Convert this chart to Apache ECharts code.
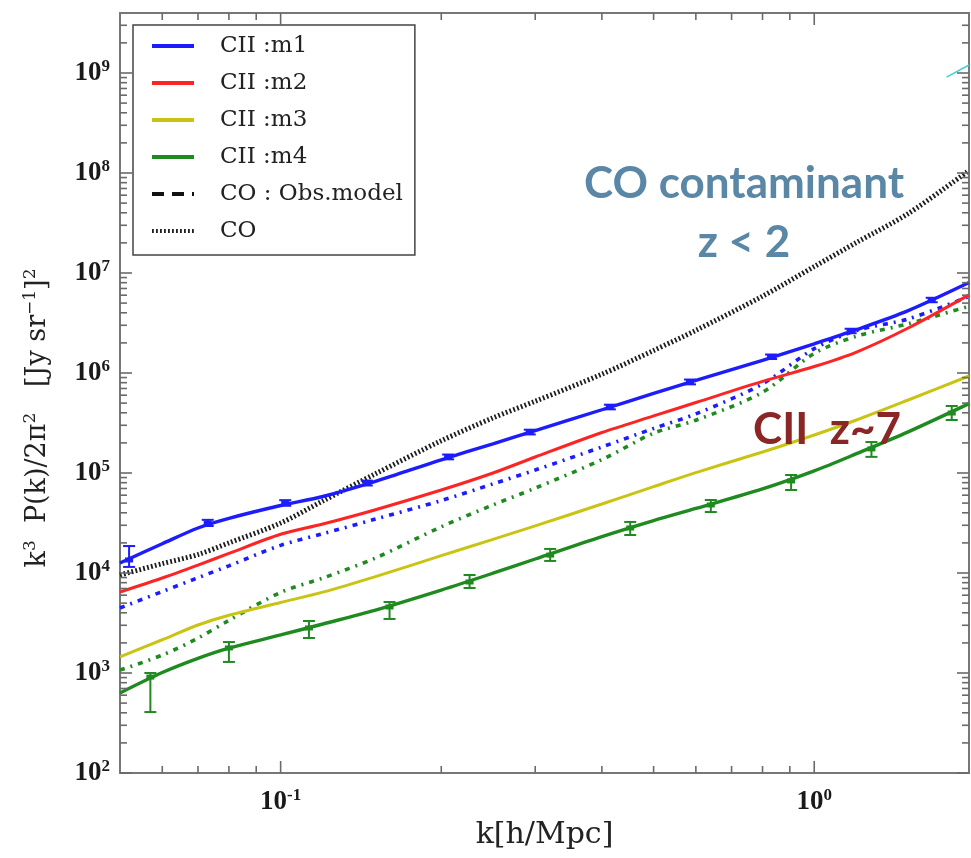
<!DOCTYPE html>
<html>
<head>
<meta charset="utf-8">
<script src="https://cdn.jsdelivr.net/npm/echarts@6/dist/echarts.min.js"></script>
<style>
  html, body { margin: 0; padding: 0; background: #ffffff; }
  #chart { width: 971px; height: 858px; }
</style>
</head>
<body>
<div id="chart"></div>
<script>
// Wavenumber grid of the model curves, k [h/Mpc]
const kGrid = [0.05, 0.06, 0.07, 0.08, 0.1, 0.12, 0.15, 0.2, 0.25, 0.3, 0.4, 0.5, 0.6, 0.8, 1.0, 1.2, 1.5, 1.95];

// CII power spectra, k^3 P(k) / 2pi^2 [Jy/sr]^2
const ciiM1 = [1.26e4, 1.96e4, 2.82e4, 3.52e4, 4.73e4, 5.82e4, 8.20e4, 1.355e5, 1.96e5, 2.66e5, 4.29e5, 6.24e5, 8.43e5, 1.34e6, 1.96e6, 2.71e6, 4.20e6, 8.02e6];
const ciiM2 = [6.46e3, 8.91e3, 1.20e4, 1.57e4, 2.44e4, 3.09e4, 4.27e4, 6.76e4, 1.00e5, 1.445e5, 2.54e5, 3.72e5, 5.07e5, 8.24e5, 1.16e6, 1.62e6, 2.82e6, 6.05e6];
const ciiM3 = [1.45e3, 2.15e3, 3.02e3, 3.78e3, 5.07e3, 6.43e3, 9.14e3, 1.49e4, 2.17e4, 2.96e4, 4.90e4, 7.31e4, 1.01e5, 1.62e5, 2.40e5, 3.39e5, 5.37e5, 9.33e5];
const ciiM4 = [6.31e2, 1.01e3, 1.40e3, 1.77e3, 2.40e3, 3.09e3, 4.23e3, 6.75e3, 9.95e3, 1.38e4, 2.31e4, 3.34e4, 4.42e4, 6.93e4, 1.05e5, 1.56e5, 2.58e5, 4.94e5];

// Observed CO model for m1 and m4
const coObsM1 = [4.47e3, 6.52e3, 8.97e3, 1.18e4, 1.89e4, 2.47e4, 3.44e4, 5.30e4, 7.78e4, 1.07e5, 1.82e5, 2.79e5, 3.90e5, 7.78e5, 1.75e6, 2.66e6, 3.47e6, 5.82e6];
const coObsM4 = [1.07e3, 1.51e3, 2.23e3, 3.36e3, 6.40e3, 8.90e3, 1.40e4, 2.90e4, 4.79e4, 7.06e4, 1.36e5, 2.50e5, 3.37e5, 6.41e5, 1.57e6, 2.33e6, 3.11e6, 4.65e6];

// CO foreground
const coTotal = [9.55e3, 1.24e4, 1.53e4, 2.00e4, 3.16e4, 5.26e4, 9.73e4, 2.10e5, 3.56e5, 5.22e5, 9.73e5, 1.68e6, 2.67e6, 5.86e6, 1.16e7, 2.02e7, 3.93e7, 1.06e8];

// Binned m1 measurement with error range
const binK1 = [0.052, 0.073, 0.102, 0.145, 0.206, 0.293, 0.414, 0.585, 0.83, 1.17, 1.66];
const binM1 = [1.35e4, 3.16e4, 5.01e4, 7.94e4, 1.45e5, 2.57e5, 4.57e5, 8.13e5, 1.45e6, 2.63e6, 5.37e6];
const binM1Lo = [1.15e4, 2.95e4, 4.70e4, 7.50e4, 1.37e5, 2.43e5, 4.33e5, 7.70e5, 1.38e6, 2.50e6, 5.10e6];
const binM1Hi = [1.86e4, 3.40e4, 5.35e4, 8.40e4, 1.53e5, 2.71e5, 4.82e5, 8.60e5, 1.53e6, 2.77e6, 5.65e6];

// Binned m4 measurement with error range
const binK4 = [0.057, 0.080, 0.113, 0.160, 0.226, 0.320, 0.452, 0.640, 0.905, 1.28, 1.81];
const binM4 = [9.1e2, 1.78e3, 2.82e3, 4.57e3, 8.13e3, 1.51e4, 2.82e4, 4.79e4, 8.32e4, 1.74e5, 3.98e5];
const binM4Lo = [4.07e2, 1.29e3, 2.24e3, 3.47e3, 7.08e3, 1.32e4, 2.40e4, 4.07e4, 6.76e4, 1.45e5, 3.39e5];
const binM4Hi = [1.0e3, 2.04e3, 3.31e3, 5.13e3, 9.55e3, 1.74e4, 3.24e4, 5.37e4, 9.55e4, 2.04e5, 4.68e5];

// Short segment of a further curve entering at the top right
const edgeK = [1.77, 1.95];
const edgeV = [9.1e8, 1.2e9];

// Axis ranges and tick positions
const kMin = 0.05, kMax = 1.95;
const pMin = 1e2, pMax = 3.98e9;
const yMajor = [1e2, 1e3, 1e4, 1e5, 1e6, 1e7, 1e8, 1e9];
const xMajor = [0.1, 1];
const xMinor = [0.06, 0.07, 0.08, 0.09, 0.2, 0.3, 0.4, 0.5, 0.6, 0.7, 0.8, 0.9];

const legendNames = ['CII :m1', 'CII :m2', 'CII :m3', 'CII :m4', 'CO : Obs.model', 'CO'];

const pairs = (xs, ys) => xs.map((x, i) => [x, ys[i]]);

// tick table: [k, P, isMajor, onXAxis]
const tickData = [];
yMajor.forEach(v => {
  tickData.push([kMin, v, 1, 0]);
  for (let m = 2; m <= 9; m++) {
    if (v * m < pMax) tickData.push([kMin, v * m, 0, 0]);
  }
});
xMajor.forEach(v => tickData.push([v, pMin, 1, 1]));
xMinor.forEach(v => tickData.push([v, pMin, 0, 1]));

function renderTicks(params, api) {
  const cs = params.coordSys;
  const len = api.value(2) ? 12 : 7;
  const p = api.coord([api.value(0), api.value(1)]);
  const style = { stroke: '#6a6a6a', lineWidth: 1.6 };
  if (api.value(3) === 1) {
    const yb = cs.y + cs.height, yt = cs.y;
    return { type: 'group', children: [
      { type: 'line', shape: { x1: p[0], y1: yb, x2: p[0], y2: yb - len }, style },
      { type: 'line', shape: { x1: p[0], y1: yt, x2: p[0], y2: yt + len }, style }
    ] };
  }
  const xl = cs.x, xr = cs.x + cs.width;
  return { type: 'group', children: [
    { type: 'line', shape: { x1: xl, y1: p[1], x2: xl + len, y2: p[1] }, style },
    { type: 'line', shape: { x1: xr, y1: p[1], x2: xr - len, y2: p[1] }, style }
  ] };
}

function makeErrRenderer(color, capHalf, lw, markW, markH) {
  return function (params, api) {
    const k = api.value(0);
    const c = api.coord([k, api.value(1)]);
    const lo = api.coord([k, api.value(2)]);
    const hi = api.coord([k, api.value(3)]);
    const st = { stroke: color, lineWidth: lw };
    return { type: 'group', children: [
      { type: 'line', shape: { x1: c[0], y1: lo[1], x2: c[0], y2: hi[1] }, style: st },
      { type: 'line', shape: { x1: c[0] - capHalf, y1: lo[1], x2: c[0] + capHalf, y2: lo[1] }, style: st },
      { type: 'line', shape: { x1: c[0] - capHalf, y1: hi[1], x2: c[0] + capHalf, y2: hi[1] }, style: st },
      { type: 'rect', shape: { x: c[0] - markW / 2, y: c[1] - markH / 2, width: markW, height: markH }, style: { fill: color } }
    ] };
  };
}

const BLUE = '#1c1cff', RED = '#ff2424', YELLOW = '#c9c414', GREEN = '#1f8a1f';

function lineSeries(name, xs, ys, color, width, type, z) {
  return {
    name, type: 'line', data: pairs(xs, ys), symbol: 'none', smooth: 0.3,
    lineStyle: { color, width, type: type || 'solid', cap: 'butt' },
    // the legend symbol takes this colour; keep it invisible so only the line sample shows
    itemStyle: { color: 'rgba(0,0,0,0)', borderWidth: 0 },
    z: z || 3, silent: true
  };
}

const chart = echarts.init(document.getElementById('chart'), null, { renderer: 'canvas' });

const tickLabelRich = {
  b: { fontFamily: 'Liberation Serif', fontWeight: 'bold', fontSize: 27, color: '#1a1a1a', lineHeight: 30 },
  s: { fontFamily: 'Liberation Serif', fontWeight: 'bold', fontSize: 17, color: '#1a1a1a', lineHeight: 17, verticalAlign: 'top' }
};
function powLabel(v) {
  const e = Math.log10(v);
  const r = Math.round(e);
  if (Math.abs(e - r) > 1e-6) return '';
  return '{b|10}{s|' + r + '}';
}

chart.setOption({
  animation: false,
  backgroundColor: '#ffffff',
  grid: { left: 120, right: 2, top: 13, bottom: 85, show: true, borderColor: '#777777', borderWidth: 2, backgroundColor: 'transparent' },
  legend: {
    data: legendNames,
    orient: 'vertical',
    left: 133, top: 25,
    padding: [8, 12, 11, 17],
    itemWidth: 42, itemHeight: 14, itemGap: 11,
    backgroundColor: '#ffffff',
    borderColor: '#444444', borderWidth: 1.5,
    selectedMode: false,
    lineStyle: { width: 4 },
    textStyle: { fontFamily: 'DejaVu Serif', fontSize: 23, color: '#222222', lineHeight: 26, padding: [0, 0, 0, 21] }
  },
  xAxis: {
    type: 'log', logBase: 10, min: kMin, max: kMax, splitNumber: 2,
    name: 'k[h/Mpc]', nameLocation: 'middle', nameGap: 45,
    nameTextStyle: { fontFamily: 'DejaVu Serif', fontSize: 30, color: '#222222' },
    axisLine: { show: false }, axisTick: { show: false }, splitLine: { show: false },
    axisLabel: { margin: 14, formatter: powLabel, rich: tickLabelRich, showMinLabel: false, showMaxLabel: false }
  },
  yAxis: {
    type: 'log', logBase: 10, min: pMin, max: pMax, splitNumber: 8,
    name: '{t|k}{s|3}{t|  P(k)/2π}{s|2}{t|   [Jy sr}{s|−1}{t|]}{s|2}',
    nameLocation: 'middle', nameGap: 66,
    nameTextStyle: {
      padding: [0, 50, 0, 0],
      rich: {
        t: { fontFamily: 'DejaVu Serif', fontSize: 27, color: '#222222', lineHeight: 32 },
        s: { fontFamily: 'DejaVu Serif', fontSize: 17, color: '#222222', lineHeight: 17, verticalAlign: 'top' }
      }
    },
    axisLine: { show: false }, axisTick: { show: false }, splitLine: { show: false },
    axisLabel: { margin: 10, formatter: powLabel, rich: tickLabelRich, showMinLabel: true, showMaxLabel: false }
  },
  series: [
    lineSeries('CO', kGrid, coTotal, '#1e1e1e', 5, [1.8, 2.2], 2),
    lineSeries('obs-m1', kGrid, coObsM1, BLUE, 3.6, [5, 6, 2, 6], 2),
    lineSeries('obs-m4', kGrid, coObsM4, GREEN, 3.6, [5, 6, 2, 6], 2),
    lineSeries('CII :m1', kGrid, ciiM1, BLUE, 3.4, 'solid', 4),
    lineSeries('CII :m2', kGrid, ciiM2, RED, 3, 'solid', 4),
    lineSeries('CII :m3', kGrid, ciiM3, YELLOW, 3, 'solid', 4),
    lineSeries('CII :m4', kGrid, ciiM4, GREEN, 3.4, 'solid', 4),
    lineSeries('CO : Obs.model', [], [], '#111111', 4, [12, 8], 2),
    lineSeries('edge', edgeK, edgeV, '#3fd3d8', 1.6, 'solid', 2),
    {
      name: 'err-m1', type: 'custom', silent: true, z: 5,
      data: binK1.map((k, i) => [k, binM1[i], binM1Lo[i], binM1Hi[i]]),
      encode: { x: 0, y: 1 },
      renderItem: makeErrRenderer(BLUE, 6, 2, 8, 5)
    },
    {
      name: 'err-m4', type: 'custom', silent: true, z: 5,
      data: binK4.map((k, i) => [k, binM4[i], binM4Lo[i], binM4Hi[i]]),
      encode: { x: 0, y: 1 },
      renderItem: makeErrRenderer(GREEN, 6, 2, 8, 5)
    },
    {
      name: 'ticks', type: 'custom', silent: true, z: 6, clip: false,
      data: tickData, encode: { x: 0, y: 1 },
      renderItem: renderTicks
    }
  ],
  graphic: [
    { type: 'text', x: 744, y: 184, z: 10, silent: true,
      style: { text: 'CO contaminant', fill: '#5b87a7', font: 'bold 44px Lato', textAlign: 'center', textVerticalAlign: 'middle' } },
    { type: 'text', x: 744, y: 243, z: 10, silent: true,
      style: { text: 'z < 2', fill: '#5b87a7', font: 'bold 44px Lato', textAlign: 'center', textVerticalAlign: 'middle' } },
    { type: 'text', x: 827, y: 430, z: 10, silent: true,
      style: { text: 'CII  z~7', fill: '#8b2626', font: 'bold 44px Lato', textAlign: 'center', textVerticalAlign: 'middle' } }
  ]
});
</script>
</body>
</html>
